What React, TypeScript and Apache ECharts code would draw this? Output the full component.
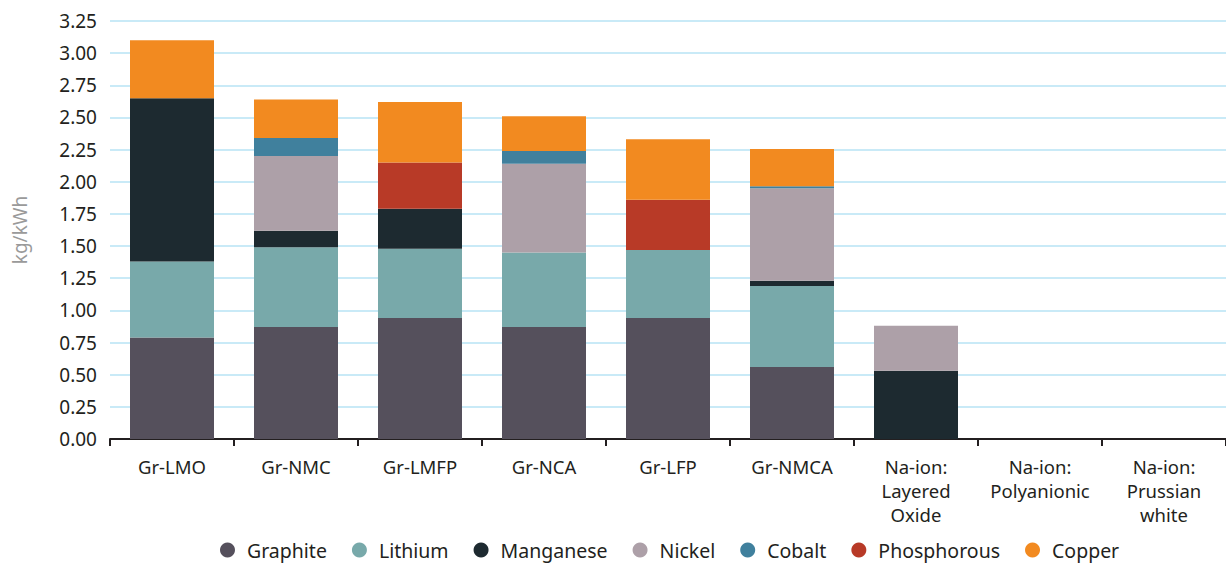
import React, { useEffect, useRef } from "react";
import * as echarts from "echarts";

const categories = [
  "Gr-LMO",
  "Gr-NMC",
  "Gr-LMFP",
  "Gr-NCA",
  "Gr-LFP",
  "Gr-NMCA",
  "Na-ion:\nLayered\nOxide",
  "Na-ion:\nPolyanionic",
  "Na-ion:\nPrussian\nwhite",
];

const graphite = [0.79, 0.87, 0.94, 0.87, 0.94, 0.56, 0, 0, 0];
const lithium = [0.59, 0.62, 0.54, 0.58, 0.53, 0.63, 0, 0, 0];
const manganese = [1.27, 0.13, 0.31, 0, 0, 0.04, 0.53, 0, 0];
const nickel = [0, 0.58, 0, 0.69, 0, 0.72, 0.35, 0, 0];
const cobalt = [0, 0.14, 0, 0.1, 0, 0.015, 0, 0, 0];
const phosphorous = [0, 0, 0.36, 0, 0.39, 0, 0, 0, 0];
const copper = [0.45, 0.3, 0.47, 0.27, 0.47, 0.29, 0, 0, 0];

const seriesDefs = [
  { name: "Graphite", data: graphite, color: "#55505c" },
  { name: "Lithium", data: lithium, color: "#78a9aa" },
  { name: "Manganese", data: manganese, color: "#1d2a30" },
  { name: "Nickel", data: nickel, color: "#ada0a8" },
  { name: "Cobalt", data: cobalt, color: "#40809d" },
  { name: "Phosphorous", data: phosphorous, color: "#b83a27" },
  { name: "Copper", data: copper, color: "#f28a20" },
];

const FONT = "'Noto Sans', sans-serif";

export default function App() {
  const ref = useRef<HTMLDivElement>(null);
  useEffect(() => {
    if (!ref.current) return;
    const chart = echarts.init(ref.current, undefined, { renderer: "svg" });
    chart.setOption({
      animation: false,
      textStyle: { fontFamily: FONT },
      grid: { left: 110, right: 0, top: 21, bottom: 127, containLabel: false },
      legend: {
        left: 215,
        bottom: 1,
        icon: "circle",
        itemWidth: 15,
        itemHeight: 15,
        itemGap: 25,
        textStyle: {
          fontSize: 19.5,
          color: "#231f20",
          fontFamily: FONT,
          padding: [0, 0, 0, 7],
        },
        data: seriesDefs.map((s) => s.name),
      },
      xAxis: {
        type: "category",
        data: categories,
        axisLine: { lineStyle: { color: "#231f20", width: 2 } },
        axisTick: { show: true, length: 7, lineStyle: { color: "#231f20", width: 2 } },
        axisLabel: {
          fontSize: 18.5,
          color: "#231f20",
          margin: 15,
          lineHeight: 24,
          interval: 0,
          fontFamily: FONT,
        },
      },
      yAxis: {
        type: "value",
        min: 0,
        max: 3.25,
        interval: 0.25,
        name: "kg/kWh",
        nameLocation: "middle",
        nameGap: 81,
        nameTextStyle: { fontSize: 19, color: "#9a9a9a", fontFamily: FONT },
        axisLine: { show: false },
        axisTick: { show: false },
        axisLabel: {
          fontSize: 19,
          color: "#231f20",
          margin: 13,
          formatter: (v: number) => v.toFixed(2),
          fontFamily: FONT,
        },
        splitLine: { lineStyle: { color: "#b7e3f5", width: 1.5 } },
      },
      series: seriesDefs.map((s) => ({
        name: s.name,
        type: "bar",
        stack: "total",
        barWidth: 84,
        data: s.data,
        itemStyle: { color: s.color },
      })),
    });
    return () => chart.dispose();
  }, []);
  return (
    <div
      ref={ref}
      style={{ position: "absolute", left: 0, top: 0, width: 1226, height: 566 }}
    />
  );
}
